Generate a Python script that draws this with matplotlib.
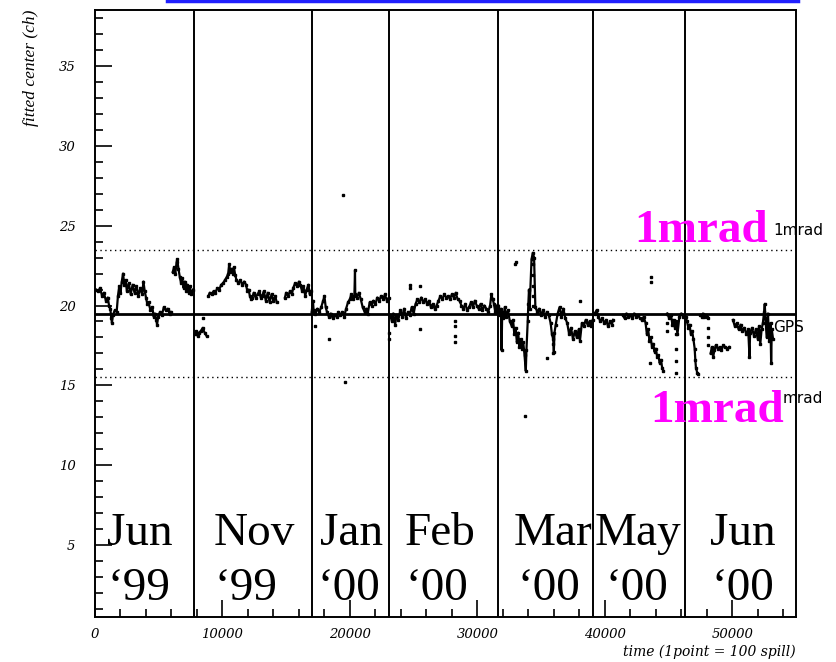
import numpy as np
import matplotlib
matplotlib.use("Agg")
import matplotlib.pyplot as plt
from matplotlib.lines import Line2D

nan = np.nan

# ---------------- data (x = time in points, y = fitted center in ch) ----------------
jun99_x = [80, 250, 400, 550, 700, 850, 1000, 1100, 1200, 1280, 1330, 1400, 1550, 1700, 1800, 1900, 2000,
           2100, 2200, 2300, 2400, 2500, 2650, 2800, 2950, 3100, 3250, 3400, 3550, 3700, 3800, 3900, 4000,
           4100, 4200, 4350, 4500, 4600, 4700, 4800, 4870, 4950, 5100, 5250, 5400, 5550, 5700, 5850, 5950,
           nan,
           6100, 6200, 6300, 6400, 6450, 6550, 6650, 6750, 6850, 6950, 7050, 7150, 7250, 7350, 7450, 7550, 7700]
jun99_y = [21.0, 20.9, 21.1, 20.6, 20.8, 20.3, 20.5, 20.0, 19.8, 19.2, 18.9, 19.4, 19.7, 19.6, 20.6, 21.2, 20.8,
           21.5, 22.0, 21.3, 21.6, 20.9, 21.4, 20.7, 21.3, 20.8, 21.2, 20.6, 21.1, 20.7, 21.5, 20.9, 20.5,
           20.1, 20.2, 19.7, 19.9, 19.3, 19.5, 19.1, 18.8, 19.3, 19.6, 19.4, 19.9, 19.7, 19.8, 19.5, 19.6,
           nan,
           22.1, 22.4, 22.0, 22.7, 22.9, 22.3, 21.8, 21.4, 21.7, 21.1, 21.5, 20.9, 21.3, 20.8, 21.2, 20.7, 21.0]

nov99_x = [7850, 7950, 8050, 8150, 8300, 8450, 8600, 8750, nan,
           8900, 9000, 9150, 9300, 9450, 9600, 9750, 9900, 10050, 10200, 10350, 10450, 10530, 10620, 10720,
           10820, 10900, 11000, 11100, 11250, 11400, 11550, 11700, 11850, 11950, 12050, 12150, 12250, 12350,
           12450, 12600, 12750, 12900, 13000, 13100, 13250, 13400, 13550, 13700, 13850, 14000, 14150, 14250, nan,
           14900, 15000, 15150, 15300, 15450, 15550, 15700, 15850, 16000, 16100, 16250, 16350, 16500, 16600,
           16750, 16850, 16950]
nov99_y = [18.2, 18.4, 18.1, 18.3, 18.4, 18.6, 18.3, 18.1, nan,
           20.6, 20.8, 20.7, 20.9, 20.8, 21.1, 21.0, 21.3, 21.4, 21.6, 21.8, 22.0, 22.6, 22.1, 22.3,
           22.0, 22.4, 21.9, 21.6, 21.4, 21.6, 21.3, 21.5, 21.3, 20.9, 21.0, 20.6, 20.4, 20.5,
           20.8, 20.5, 20.7, 20.9, 20.5, 20.6, 20.9, 20.3, 20.8, 20.2, 20.7, 20.3, 20.6, 20.2, nan,
           20.5, 20.8, 20.6, 20.9, 20.7, 21.1, 21.4, 21.2, 21.5, 21.3, 20.9, 21.2, 20.6, 21.0,
           21.3, 20.7, 20.9]

jan00_x = [17000, 17100, 17150, 17300, 17450, 17600, 17750, 17900, 18000, 18100, 18200, 18350, 18500, 18650,
           18800, 18950, 19100, 19250, 19400, 19550, 19700, 19850, 20000, 20100, 20250, 20350, 20400, 20420,
           20550, 20700, 20850, 21000, 21150, 21300, 21400, 21550, 21700, 21850, 22000, 22150, 22300, 22450,
           22600, 22750, 22900, 23050]
jan00_y = [19.6, 20.3, 19.7, 19.5, 19.8, 19.6, 19.9, 20.3, 20.6, 19.9, 19.6, 19.3, 19.5, 19.2,
           19.4, 19.3, 19.6, 19.4, 19.6, 19.3, 19.8, 20.2, 20.4, 20.7, 20.4, 20.6, 22.2, 20.7,
           20.5, 20.8, 20.4, 19.9, 19.6, 19.8, 19.5, 20.2, 20.0, 20.3, 20.1, 20.5, 20.3, 20.6,
           20.4, 20.7, 20.3, 20.5]

feb00_x = [23150, 23300, 23400, 23550, 23650, 23800, 23950, 24100, 24250, 24400, 24550, 24700, 24850, 25000,
           25150, 25300, 25450, 25600, 25750, 25900, 26050, 26200, 26350, 26500, 26650, 26800, 26950, 27100,
           27250, 27400, 27550, 27700, 27850, 28000, 28150, 28300, 28450, 28600, 28750, 28900, 29050, 29200,
           29350, 29500, 29650, 29800, 29950, 30100, 30250, 30400, 30550, 30700, 30850, 31000, 31100, 31200,
           31300, 31400, 31500, 31580]
feb00_y = [19.4, 19.0, 19.5, 18.8, 19.4, 19.1, 19.7, 19.3, 19.8, 19.2, 19.6, 19.4, 19.9, 19.5,
           20.1, 20.4, 20.2, 20.5, 20.2, 20.4, 20.1, 20.3, 19.9, 20.1, 19.8, 20.0, 20.3, 20.6,
           20.4, 20.7, 20.5, 20.6, 20.4, 20.7, 20.5, 20.8, 20.4, 20.3, 20.0, 19.8, 20.1, 19.7,
           19.9, 20.2, 19.9, 20.3, 20.0, 19.8, 20.1, 19.7, 20.0, 19.8, 19.6, 20.0, 20.7, 20.4,
           20.1, 19.6, 20.0, 19.5]

mar00_x = [31650, 31750, 31850, 31900, 31950, 32050, 32150, 32250, 32400, 32550, 32700, 32800, 32900, 33000,
           33100, 33200, 33300, 33400, 33500, 33600, 33700, 33800, 33850, 33950, 34000, 34050, 34100, 34250,
           34350, 34450, 34550, 34700, 34850, 35000, 35150, 35300, 35450, 35600, 35750, 35850, 35950, 36000,
           36050, 36150, 36300, 36450, 36600, 36750, 36900, 37050, 37200, 37350, 37500, 37650, 37800, 37950,
           38050, 38200, 38350, 38500, 38650, 38800, 38950, 39050]
mar00_y = [20.0, 19.4, 19.8, 17.2, 19.6, 19.2, 19.9, 19.3, 19.7, 19.0, 18.7, 19.1, 18.2, 18.6,
           17.7, 18.3, 17.4, 17.9, 17.3, 17.7, 16.9, 15.9, 17.2, 19.0, 20.1, 21.0, 19.8, 22.9,
           23.3, 23.0, 19.9, 19.6, 19.8, 19.4, 19.7, 19.3, 19.6, 19.4, 18.9, 18.2, 17.9, 17.1,
           18.3, 18.8, 19.5, 19.9, 19.3, 19.8, 19.2, 18.9, 18.2, 18.6, 17.9, 18.4, 18.0, 18.5,
           17.8, 18.9, 18.7, 19.1, 18.8, 19.0, 18.7, 19.1]

may00_x = [39200, 39350, 39500, 39650, 39800, 39950, 40100, 40250, 40400, 40550, 40650, nan,
           41400, 41550, 41700, 41850, 42000, 42150, 42300, 42450, 42600, 42750, 42900, 43050, 43200, 43300,
           43400, 43500, 43600, 43700, 43800, 43900, 44000, 44100, 44200, 44300, 44400, 44500, 44600, nan,
           44900, 45050, 45200, 45300, 45400, 45500, 45600, 45700, 45850, 46000, 46150]
may00_y = [19.5, 19.7, 19.3, 19.0, 19.2, 18.9, 19.1, 18.7, 19.0, 18.8, 19.1, nan,
           19.4, 19.2, 19.5, 19.3, 19.4, 19.2, 19.5, 19.3, 19.4, 19.2, 19.1, 19.3, 18.9, 18.2,
           18.5, 17.8, 18.0, 17.4, 17.6, 17.1, 17.3, 16.8, 16.9, 16.4, 16.6, 16.1, 15.9, nan,
           19.5, 19.2, 19.4, 18.8, 19.1, 18.6, 18.9, 18.2, 19.3, 19.5, 19.3]

jun00_x = [46350, 46450, 46550, 46650, 46750, 46850, 46950, 47050, 47100, 47150, 47250, 47350, nan,
           47500, 47600, 47700, 47800, 47900, 48000, nan,
           48300, 48400, 48500, 48600, 48700, 48850, 49000, 49150, 49300, 49450, 49600, 49750, nan,
           50050, 50200, 50350, 50500, 50650, 50800, 50950, 51100, 51250, 51350, 51400, 51550, 51700, 51850,
           52000, 52100, 52200, 52300, 52400, 52500, 52550, 52600, 52700, 52800, 52900, 53000, 53050, 53100, 53200]
jun00_y = [19.3, 19.0, 18.6, 18.8, 18.2, 18.4, 17.9, 17.3, 16.6, 16.1, 15.8, 15.7, nan,
           19.4, 19.3, 19.5, 19.3, 19.4, 19.3, nan,
           17.0, 17.4, 16.8, 17.2, 17.5, 17.3, 17.4, 17.2, 17.5, 17.4, 17.3, 17.4, nan,
           19.1, 18.7, 18.9, 18.5, 18.8, 18.4, 18.6, 18.2, 18.5, 16.8, 18.3, 18.6, 18.1, 18.5,
           17.9, 18.7, 17.6, 18.5, 18.9, 19.6, 20.1, 19.2, 18.0, 19.5, 17.8, 18.9, 16.4, 18.5, 17.9]

# isolated points (outliers and sparse runs)
dots_x = [8470, 17280, 18380, 19430, 19600, 23030, 23030, 24700, 24700, 25490, 25490, 28240, 28240, 28240,
          28240, 32940, 33020, 33720, 34380, 34380, 34380, 34380, 34380, 35430, 35950, 35950, 38030,
          43530, 43660, 43660, 45620, 45620, 45620, 45620, 45620, 48110, 48110, 48110, 48110, 44850, 44850]
dots_y = [19.2, 18.7, 17.9, 26.9, 15.2, 18.3, 17.9, 21.1, 21.3, 21.2, 18.5, 19.0, 18.7, 18.1,
          17.7, 22.6, 22.7, 13.1, 22.6, 21.9, 21.2, 20.6, 20.0, 16.7, 17.6, 17.0, 20.3,
          16.4, 21.5, 21.8, 19.0, 18.2, 17.3, 16.5, 15.8, 19.2, 18.6, 18.0, 17.5, 18.9, 18.4]

month_lines = [7800, 17000, 23100, 31600, 39100, 46300]
gps_level = 19.5
mrad_hi = 23.5
mrad_lo = 15.5
month_top = ["Jun", "Nov", "Jan", "Feb", "Mar", "May", "Jun"]
month_bot = ["\u201899", "\u201899", "\u201800", "\u201800", "\u201800", "\u201800", "\u201800"]

# ---------------- figure ----------------
W, H = 836, 662
fig = plt.figure(figsize=(W / 100, H / 100), dpi=100)
ax = fig.add_axes([95 / W, 1 - 617 / H, (796 - 95) / W, (617 - 10) / H])
ax.set_xlim(0, 55000)
ax.set_ylim(0.5, 38.5)

for xs, ys in [(jun99_x, jun99_y), (nov99_x, nov99_y), (jan00_x, jan00_y), (feb00_x, feb00_y),
               (mar00_x, mar00_y), (may00_x, may00_y), (jun00_x, jun00_y)]:
    ax.plot(xs, ys, color="black", lw=1.6, marker="s", ms=2.0, mec="black", mfc="black", zorder=3)
ax.plot(dots_x, dots_y, ls="none", marker="s", ms=1.5, color="black", zorder=3)

for xv in month_lines:
    ax.axvline(xv, color="black", lw=1.4, zorder=2)
ax.axhline(gps_level, color="black", lw=2.0, zorder=2)
ax.axhline(mrad_hi, color="black", lw=1.0, ls=(0, (1, 2.5)), zorder=2)
ax.axhline(mrad_lo, color="black", lw=1.0, ls=(0, (1, 2.5)), zorder=2)

# axes style (ROOT-like)
for side in ["top", "right", "bottom", "left"]:
    ax.spines[side].set_linewidth(1.4)
ax.set_xticks(np.arange(0, 55001, 10000))
ax.set_xticks(np.arange(0, 55001, 2000), minor=True)
ax.set_yticks(np.arange(5, 36, 5))
ax.set_yticks(np.arange(1, 39, 1), minor=True)
ax.tick_params(which="both", direction="in", top=False, right=False, width=1.2)
ax.tick_params(which="major", length=12)
ax.tick_params(which="minor", length=6)
ax.tick_params(axis="y", which="major", pad=14)
ax.tick_params(axis="x", which="major", pad=8)
for lab in ax.get_xticklabels() + ax.get_yticklabels():
    lab.set_fontstyle("italic")
    lab.set_fontsize(9.5)
    lab.set_family("DejaVu Serif")

ax.text(-0.091, 1.0, "fitted center (ch)", transform=ax.transAxes, rotation=90, ha="center", va="top",
        fontsize=12.5, style="italic", family="Liberation Serif")
fig.text(796 / W, 1 - 656 / H, "time (1point = 100 spill)", ha="right", va="baseline",
         fontsize=10, style="italic", family="DejaVu Serif")

# side labels
fig.text(773 / W, 1 - 235 / H, "1mrad", fontsize=11, ha="left", va="baseline", family="DejaVu Sans")
fig.text(773 / W, 1 - 332 / H, "GPS", fontsize=11, ha="left", va="baseline", family="DejaVu Sans")
fig.text(783 / W, 1 - 403 / H, "mrad", fontsize=11, ha="left", va="baseline", family="DejaVu Sans")

# big magenta labels
fig.text(634 / W, 1 - 242 / H, "1mrad", fontsize=34, color="#ff00ff",
         fontweight="bold", family="Liberation Serif", ha="left", va="baseline", zorder=5)
fig.text(650 / W, 1 - 422 / H, "1mrad", fontsize=34, color="#ff00ff",
         fontweight="bold", family="Liberation Serif", ha="left", va="baseline", zorder=5)

# big month labels
top_x = [107, 214, 320, 405, 514, 595, 710]
bot_x = [107, 215, 318, 405, 517, 605, 712]
for t, b, xt, xb in zip(month_top, month_bot, top_x, bot_x):
    fig.text(xt / W, 1 - 545 / H, t, fontsize=34, family="Liberation Serif",
             ha="left", va="baseline", zorder=5)
    fig.text(xb / W, 1 - 600 / H, b, fontsize=34, family="Liberation Serif",
             ha="left", va="baseline", zorder=5)

# blue underline at the top edge
fig.add_artist(Line2D([167 / W, 798 / W], [1 - 1 / H, 1 - 1 / H], color="#2020ff", lw=2.5,
                      transform=fig.transFigure))

fig.savefig("out.png", dpi=100)
